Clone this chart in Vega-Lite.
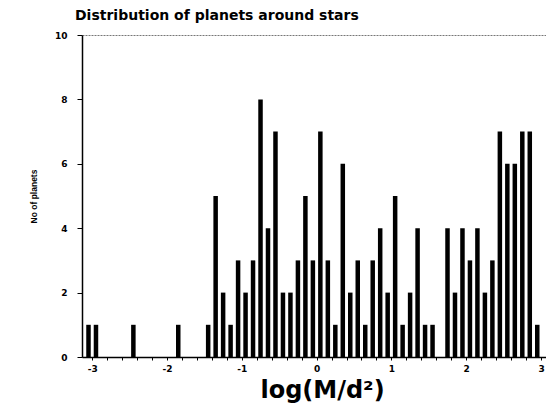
{
  "$schema": "https://vega.github.io/schema/vega-lite/v6.json",
  "width": 464,
  "height": 322,
  "autosize": {"type": "none"},
  "padding": {"left": 82, "top": 35, "right": 0, "bottom": 51},
  "background": "white",
  "title": {
    "text": "Distribution of planets around stars",
    "anchor": "start",
    "frame": "group",
    "dx": -7,
    "font": "DejaVu Sans",
    "fontSize": 14,
    "fontWeight": "bold",
    "offset": 8,
    "color": "black"
  },
  "data": {
    "values": [
      {"logMd2": -3.05, "planets": 1},
      {"logMd2": -2.95, "planets": 1},
      {"logMd2": -2.45, "planets": 1},
      {"logMd2": -1.85, "planets": 1},
      {"logMd2": -1.45, "planets": 1},
      {"logMd2": -1.35, "planets": 5},
      {"logMd2": -1.25, "planets": 2},
      {"logMd2": -1.15, "planets": 1},
      {"logMd2": -1.05, "planets": 3},
      {"logMd2": -0.95, "planets": 2},
      {"logMd2": -0.85, "planets": 3},
      {"logMd2": -0.75, "planets": 8},
      {"logMd2": -0.65, "planets": 4},
      {"logMd2": -0.55, "planets": 7},
      {"logMd2": -0.45, "planets": 2},
      {"logMd2": -0.35, "planets": 2},
      {"logMd2": -0.25, "planets": 3},
      {"logMd2": -0.15, "planets": 5},
      {"logMd2": -0.05, "planets": 3},
      {"logMd2": 0.05, "planets": 7},
      {"logMd2": 0.15, "planets": 3},
      {"logMd2": 0.25, "planets": 1},
      {"logMd2": 0.35, "planets": 6},
      {"logMd2": 0.45, "planets": 2},
      {"logMd2": 0.55, "planets": 3},
      {"logMd2": 0.65, "planets": 1},
      {"logMd2": 0.75, "planets": 3},
      {"logMd2": 0.85, "planets": 4},
      {"logMd2": 0.95, "planets": 2},
      {"logMd2": 1.05, "planets": 5},
      {"logMd2": 1.15, "planets": 1},
      {"logMd2": 1.25, "planets": 2},
      {"logMd2": 1.35, "planets": 4},
      {"logMd2": 1.45, "planets": 1},
      {"logMd2": 1.55, "planets": 1},
      {"logMd2": 1.75, "planets": 4},
      {"logMd2": 1.85, "planets": 2},
      {"logMd2": 1.95, "planets": 4},
      {"logMd2": 2.05, "planets": 3},
      {"logMd2": 2.15, "planets": 4},
      {"logMd2": 2.25, "planets": 2},
      {"logMd2": 2.35, "planets": 3},
      {"logMd2": 2.45, "planets": 7},
      {"logMd2": 2.55, "planets": 6},
      {"logMd2": 2.65, "planets": 6},
      {"logMd2": 2.75, "planets": 7},
      {"logMd2": 2.85, "planets": 7},
      {"logMd2": 2.95, "planets": 1}
    ]
  },
  "mark": {"type": "bar", "color": "black", "size": 4.5},
  "encoding": {
    "x": {
      "field": "logMd2",
      "type": "quantitative",
      "scale": {"domain": [-3.07, 3.0], "nice": false, "zero": false},
      "axis": {
        "values": [-3, -2.8, -2.6, -2.4, -2.2, -2, -1.8, -1.6, -1.4, -1.2, -1, -0.8, -0.6, -0.4, -0.2, 0, 0.2, 0.4, 0.6, 0.8, 1, 1.2, 1.4, 1.6, 1.8, 2, 2.2, 2.4, 2.6, 2.8, 3],
        "labelExpr": "abs(datum.value - round(datum.value)) < 0.01 ? '' + round(datum.value) : ''",
        "labelFont": "DejaVu Sans",
        "labelFontSize": 9,
        "labelFontWeight": "bold",
        "labelColor": "black",
        "labelPadding": 4,
        "labelFlush": false,
        "labelOverlap": false,
        "labelBound": false,
        "tickSize": 3,
        "tickColor": "black",
        "domainColor": "black",
        "domainWidth": 1.5,
        "grid": false,
        "title": "log(M/d²)",
        "titleFont": "DejaVu Sans",
        "titleFontSize": 24,
        "titleFontWeight": "bold",
        "titleColor": "black",
        "titlePadding": 5,
        "titleX": 240
      }
    },
    "y": {
      "field": "planets",
      "type": "quantitative",
      "scale": {"domain": [0, 10], "nice": false},
      "axis": {
        "values": [0, 2, 4, 6, 8, 10],
        "labelFont": "DejaVu Sans",
        "labelFontSize": 9,
        "labelFontWeight": "bold",
        "labelColor": "black",
        "labelPadding": 10,
        "tickSize": 5,
        "tickColor": "black",
        "domainColor": "black",
        "domainWidth": 1.5,
        "grid": false,
        "title": "No of planets",
        "titleFont": "Liberation Sans",
        "titleFontSize": 8.5,
        "titleFontWeight": "bold",
        "titleColor": "black",
        "titlePadding": 16
      }
    }
  },
  "config": {
    "view": {"stroke": "#777", "strokeWidth": 1, "strokeDash": [2, 1]}
  }
}
